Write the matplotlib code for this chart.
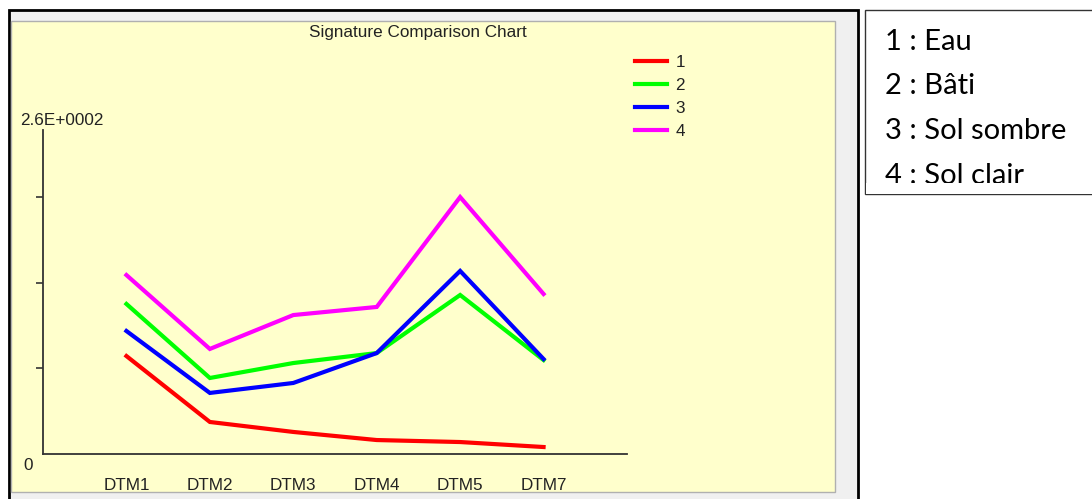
import matplotlib
matplotlib.use("Agg")
import matplotlib.pyplot as plt
from matplotlib.patches import Rectangle

W, H = 1092, 499

# values (y axis 0 .. 260)
bands = ["DTM1", "DTM2", "DTM3", "DTM4", "DTM5", "DTM7"]
eau = [78.6, 25.7, 17.7, 11.2, 9.6, 5.6]
bati = [120.4, 61.0, 73.0, 81.0, 127.6, 75.4]
sol_sombre = [98.7, 49.0, 57.0, 81.0, 146.9, 76.2]
sol_clair = [143.6, 84.3, 111.5, 118.0, 206.2, 128.4]
series_names = ["1", "2", "3", "4"]
series_colors = ["#ff0000", "#00ff00", "#0000ff", "#ff00ff"]
legend_lines = ["1 : Eau", "2 : Bâti", "3 : Sol sombre", "4 : Sol clair"]
y_max = 260

FONT = "Liberation Sans"
FS = 12.3


def px_rect(x0, y0, x1, y1, **kw):
    # rectangle given in image pixels (origin top-left)
    return Rectangle((x0 / W, 1 - y1 / H), (x1 - x0) / W, (y1 - y0) / H,
                     transform=fig.transFigure, **kw)


fig = plt.figure(figsize=(W / 100, H / 100), dpi=100)
fig.patch.set_facecolor("white")

# window frame + yellow chart panel
fig.patches.append(px_rect(9, 10, 858, 520, facecolor="#f0f0f0",
                           edgecolor="black", linewidth=2, zorder=-3))
fig.patches.append(px_rect(11, 21, 835, 492, facecolor="#ffffcc",
                           edgecolor="#b0b0b0", linewidth=1, zorder=-2))

ax = fig.add_axes([43 / W, 1 - 454 / H, (627 - 43) / W, (454 - 130) / H])
ax.set_facecolor("none")

xs = list(range(1, len(bands) + 1))
for vals, name, col in zip([eau, bati, sol_sombre, sol_clair], series_names, series_colors):
    ax.plot(xs, vals, color=col, linewidth=3, label=name, solid_joinstyle="miter")

ax.set_xlim(0, 7)
ax.set_ylim(0, y_max)
for s in ["top", "right"]:
    ax.spines[s].set_visible(False)
for s in ["left", "bottom"]:
    ax.spines[s].set_color("#333333")
    ax.spines[s].set_linewidth(1.3)

ax.set_xticks(xs)
ax.set_xticklabels(bands, fontfamily=FONT, fontsize=FS, color="#222222")
ax.tick_params(axis="x", length=0, pad=17)
ax.set_yticks([69.0, 137.2, 206.2])
ax.set_yticklabels([])
ax.tick_params(axis="y", length=5, width=1.2, color="#333333", direction="out")

ax.text(-0.039, 1.03, "2.6E+0002", transform=ax.transAxes, ha="left", va="center",
        fontfamily=FONT, fontsize=FS, color="#222222")
ax.text(-0.025, -0.034, "0", transform=ax.transAxes, ha="center", va="center",
        fontfamily=FONT, fontsize=FS, color="#222222")

fig.text(418 / W, 1 - 33 / H, "Signature Comparison Chart", ha="center", va="center",
         fontfamily=FONT, fontsize=FS, color="#222222")

leg = ax.legend(loc="upper left", bbox_to_anchor=(626 / W, 1 - 46 / H),
                bbox_transform=fig.transFigure, frameon=False,
                prop={"family": FONT, "size": FS},
                handlelength=1.9, handletextpad=0.5, labelspacing=0.47,
                borderpad=0)
for t in leg.get_texts():
    t.set_color("#222222")

# side box with class names
fig.patches.append(px_rect(865, 10, 1100, 194, facecolor="white", edgecolor="#333333",
                           linewidth=1, zorder=-2))
for i, line in enumerate(legend_lines):
    fig.text(885 / W, 1 - (50 + i * 44.5) / H, line, ha="left", va="baseline",
             fontfamily="Lato", fontsize=21, color="black", zorder=3)
# the last line is cut off by the box, as in the original
fig.patches.append(px_rect(866, 182.5, 1100, 193.5, facecolor="white",
                           edgecolor="none", zorder=5))

fig.savefig("out.png", dpi=100)
